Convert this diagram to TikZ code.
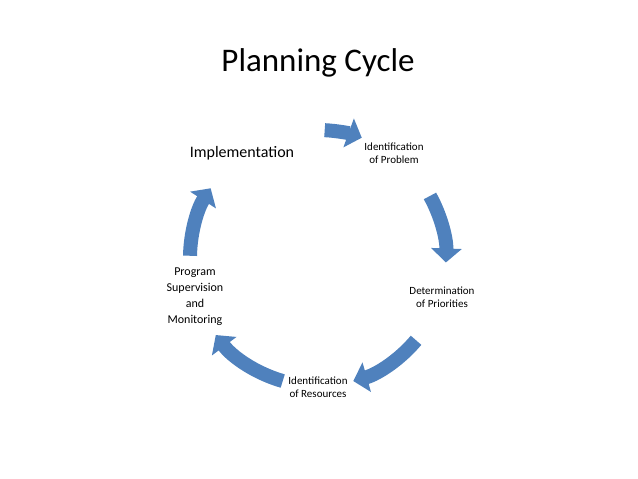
\documentclass[tikz,border=0pt]{standalone}
\usepackage{fontspec}
\setmainfont{Carlito}
\usetikzlibrary{arrows.meta,calc}
\definecolor{arr}{HTML}{4F81BD}
\begin{document}
\begin{tikzpicture}[x=1pt,y=-1pt,
  cyc/.style={draw=arr,line width=14pt,-{Triangle[width=30pt,length=14pt]}},
  lab/.style={align=center,font=\fontsize{11}{13}\selectfont}]
\useasboundingbox (0,0) rectangle (638,479);
\coordinate (c) at (318,258);
\node (title) at (318,63) {\fontsize{33}{38}\selectfont Planning Cycle};
\node (impl) at (242,153) {\fontsize{16}{19}\selectfont Implementation};
\node[lab] (p1) at (394,153) {Identification\\of Problem};
\node[lab] (p2) at (442,297) {Determination\\of Priorities};
\node[lab] (p3) at (318,387) {Identification\\of Resources};
\node[lab,font=\fontsize{12}{16}\selectfont] (p4) at (195,297) {Program\\Supervision\\and\\Monitoring};
\foreach \a/\b in {87/70, 29/-2, -40/-74, -106/-143, 179/147}
  \draw[cyc] ($(c)+(-\a:128)$) arc[start angle=-\a,end angle=-\b,radius=128];
\end{tikzpicture}
\end{document}
